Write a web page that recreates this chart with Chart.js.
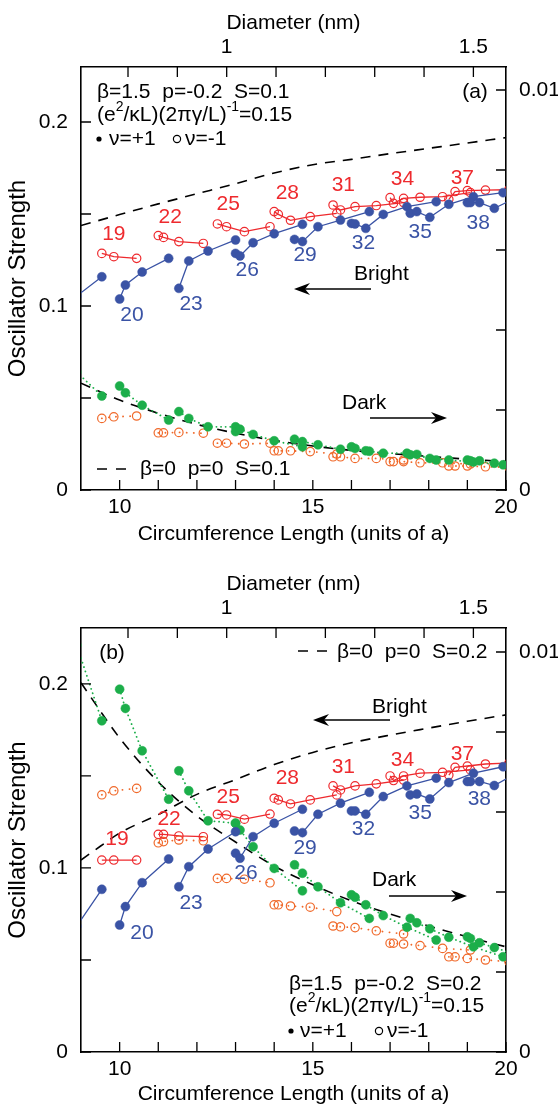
<!DOCTYPE html>
<html>
<head>
<meta charset="utf-8">
<script src="https://cdn.jsdelivr.net/npm/chart.js@4.4.0/dist/chart.umd.min.js"></script>
<style>
  body { margin: 0; background: #fff; width: 558px; height: 1107px; overflow: hidden; position: relative; }
  canvas { position: absolute; left: 0; }
  #chartA { top: 0; }
  #chartB { top: 555px; }
</style>
</head>
<body>
<canvas id="chartA" width="558" height="555"></canvas>
<canvas id="chartB" width="558" height="552"></canvas>
<script>
// graphene lattice constant (nm), used for the top Diameter axis
const latticeA = 0.246;

// axis ticks
const xTicks = [10, 11, 12, 13, 14, 15, 16, 17, 18, 19, 20];
const xTickLabels = ['10', '', '', '', '', '15', '', '', '', '', '20'];
const diamTicks = [0.8, 0.9, 1.0, 1.1, 1.2, 1.3, 1.4, 1.5];
const diamTickLabels = ['', '', '1', '', '', '', '', '1.5'];
const yTicks = [0, 0.05, 0.1, 0.15, 0.2];
const yTickLabels = ['0', '', '0.1', '', '0.2'];
const y2Ticks = [0, 0.002, 0.004, 0.006, 0.008, 0.01];
const y2TickLabels = ['0', '', '', '', '', '0.01'];

// circumference lengths of the tubes in each family (2n+m)
const f17 = [8.888, 9.539];
const f19 = [9.539, 9.849, 10.440];
const f20 = [10.000, 10.149, 10.583, 11.269];
const f22 = [11.000, 11.136, 11.533, 12.166];
const f23 = [11.533, 11.790, 12.288, 13.000];
const f25 = [12.530, 12.767, 13.229, 13.892];
const f26 = [13.000, 13.115, 13.454, 14.000, 14.731];
const f28 = [14.000, 14.107, 14.422, 14.933, 15.620];
const f29 = [14.526, 14.731, 15.133, 15.716, 16.462];
const f31 = [15.524, 15.716, 16.093, 16.643, 17.349];
const f32 = [16.000, 16.093, 16.371, 16.823, 17.436, 18.193];
const f34 = [17.000, 17.088, 17.349, 17.776, 18.358, 19.079];
const f35 = [17.521, 17.692, 18.028, 18.520, 19.157, 19.925];
const f37 = [18.520, 18.682, 19.000, 19.468, 20.075];
const f38 = [19.000, 19.079, 19.313, 19.698, 20.224];
const plusFamilies = [f17, f20, f23, f26, f29, f32, f35, f38];   // nu = +1
const minusFamilies = [f19, f22, f25, f28, f31, f34, f37];       // nu = -1
const plusNames = ['20', '23', '26', '29', '32', '35', '38'];
const minusNames = ['19', '22', '25', '28', '31', '34', '37'];

// ---- panel (a): S = 0.1 ----
const aBrightPlus = [
  [0.1054, 0.1159],
  [0.1038, 0.1114, 0.1185, 0.1259],
  [0.1096, 0.1245, 0.1299, 0.1359],
  [0.1286, 0.1272, 0.1344, 0.1393, 0.1444],
  [0.1362, 0.1350, 0.1431, 0.1467, 0.1513],
  [0.1449, 0.1446, 0.1422, 0.1498, 0.1540, 0.1567],
  [0.1504, 0.1513, 0.1482, 0.1553, 0.1594, 0.1616],
  [0.1562, 0.1562, 0.1562, 0.1531, 0.1585]
];
const aBrightMinus = [
  [0.1286, 0.1268, 0.1259],
  [0.1383, 0.1373, 0.1350, 0.1340],
  [0.1446, 0.1431, 0.1404, 0.1431],
  [0.1513, 0.1498, 0.1466, 0.1486, 0.1503],
  [0.1549, 0.1522, 0.1540, 0.1546, 0.1562],
  [0.1589, 0.1558, 0.1585, 0.1591, 0.1594, 0.1616],
  [0.1580, 0.1622, 0.1627, 0.1630, 0.1632]
];
const aDarkPlus = [
  [0.00295, 0.00235],
  [0.00260, 0.00243, 0.00212, 0.00175],
  [0.00196, 0.00179, 0.00158, 0.00158],
  [0.00146, 0.00152, 0.00139, 0.00123, 0.00108],
  [0.00127, 0.00121, 0.00113, 0.00102, 0.00097],
  [0.00108, 0.00104, 0.00098, 0.00092, 0.00092, 0.00075],
  [0.00088, 0.00089, 0.00079, 0.00075, 0.00070, 0.00063],
  [0.00075, 0.00073, 0.00073, 0.00067, 0.00062]
];
const aDarkMinus = [
  [0.00179, 0.00183, 0.00185],
  [0.00143, 0.00143, 0.00144, 0.00142],
  [0.00117, 0.00117, 0.00115, 0.00117],
  [0.00098, 0.00098, 0.00098, 0.00096, 0.00090],
  [0.00083, 0.00083, 0.00079, 0.00079, 0.00075],
  [0.00071, 0.00071, 0.00071, 0.00068, 0.00068, 0.00065],
  [0.00060, 0.00060, 0.00060, 0.00058, 0.00057]
];
const aRefL = [9, 10, 11, 12, 13, 14, 15, 16, 17, 18, 19, 20];
const aRefBright = [0.1437, 0.1497, 0.1555, 0.1610, 0.1665, 0.1723, 0.1768, 0.1797, 0.1828, 0.1857, 0.1886, 0.1915];
const aRefDark = [0.00267, 0.00225, 0.00192, 0.00164, 0.00142, 0.00124, 0.00110, 0.00099, 0.00091, 0.00084, 0.00077, 0.00071];
const aMinusLabelPos = [[9.85, 0.1391], [11.31, 0.1484], [12.81, 0.1554], [14.34, 0.1614], [15.79, 0.1658], [17.32, 0.1690], [18.87, 0.1696]];
const aPlusLabelPos = [[10.32, 0.0951], [11.85, 0.1011], [13.30, 0.1196], [14.80, 0.1277], [16.31, 0.1342], [17.78, 0.1402], [19.28, 0.1451]];

// ---- panel (b): S = 0.2 ----
const bBrightPlus = [
  [0.0683, 0.0884],
  [0.0690, 0.0790, 0.0920, 0.1049],
  [0.0898, 0.1007, 0.1103, 0.1197],
  [0.1080, 0.1053, 0.1170, 0.1243, 0.1319],
  [0.1201, 0.1192, 0.1292, 0.1352, 0.1411],
  [0.1310, 0.1310, 0.1292, 0.1388, 0.1446, 0.1488],
  [0.1397, 0.1402, 0.1375, 0.1464, 0.1515, 0.1550],
  [0.1470, 0.1470, 0.1470, 0.1448, 0.1510]
];
const bBrightMinus = [
  [0.1043, 0.1043, 0.1043],
  [0.1183, 0.1183, 0.1174, 0.1170],
  [0.1292, 0.1288, 0.1265, 0.1293],
  [0.1379, 0.1370, 0.1348, 0.1370, 0.1397],
  [0.1446, 0.1424, 0.1446, 0.1457, 0.1478],
  [0.1500, 0.1475, 0.1500, 0.1515, 0.1520, 0.1533],
  [0.1505, 0.1547, 0.1554, 0.1565, 0.1570]
];
const bDarkPlus = [
  [0.01017, 0.00828],
  [0.00907, 0.00859, 0.00753, 0.00632],
  [0.00703, 0.00653, 0.00578, 0.00572],
  [0.00572, 0.00555, 0.00513, 0.00459, 0.00403],
  [0.00468, 0.00447, 0.00413, 0.00373, 0.00334],
  [0.00393, 0.00387, 0.00368, 0.00341, 0.00312, 0.00280],
  [0.00334, 0.00323, 0.00308, 0.00287, 0.00263, 0.00238],
  [0.00288, 0.00284, 0.00273, 0.00261, 0.00245]
];
const bDarkMinus = [
  [0.00643, 0.00653, 0.00659],
  [0.00523, 0.00526, 0.00530, 0.00528],
  [0.00434, 0.00434, 0.00432, 0.00423],
  [0.00368, 0.00368, 0.00365, 0.00362, 0.00351],
  [0.00315, 0.00313, 0.00311, 0.00303, 0.00295],
  [0.00272, 0.00272, 0.00270, 0.00266, 0.00259, 0.00255],
  [0.00238, 0.00238, 0.00234, 0.00230, 0.00226]
];
const bRefBrightL = [9, 9.5, 10, 11, 12, 13, 14, 15, 16, 17, 18, 19, 20];
const bRefBright = [0.1043, 0.1118, 0.1190, 0.1290, 0.1400, 0.1480, 0.1562, 0.1628, 0.1680, 0.1722, 0.1760, 0.1797, 0.1832];
const bRefDarkL = [9, 10, 11, 12, 13, 14, 15, 16, 17, 18, 19, 20];
const bRefDark = [0.00923, 0.00785, 0.00675, 0.00590, 0.00525, 0.00465, 0.00418, 0.00378, 0.00345, 0.00315, 0.00288, 0.00263];
const bMinusLabelPos = [[9.93, 0.1158], [11.28, 0.1266], [12.81, 0.1386], [14.34, 0.1489], [15.79, 0.1549], [17.32, 0.1587], [18.87, 0.1620]];
const bPlusLabelPos = [[10.58, 0.0647], [11.85, 0.0810], [13.27, 0.0973], [14.80, 0.1109], [16.31, 0.1212], [17.78, 0.1299], [19.31, 0.1375]];

const BLUE = '#3a53a5';
const RED = '#ee2a2e';
const GREEN = '#1cae4a';
const ORANGE = '#f0692a';
const FONT_FAMILY = '"Liberation Sans", Arial, Helvetica, sans-serif';
const TXT_FONT = '21px ' + FONT_FAMILY;
const SUP_FONT = '14px ' + FONT_FAMILY;

Chart.defaults.font.family = FONT_FAMILY;
Chart.defaults.font.size = 21;
Chart.defaults.color = '#000';

// join the families into one series, with a gap between families
function joinFamilies(fams, vals) {
  const out = [];
  fams.forEach((xs, i) => {
    xs.forEach((x, j) => out.push({ x: x, y: vals[i][j] }));
    out.push({ x: xs[xs.length - 1], y: null });
  });
  return out;
}

function pairs(xs, ys) {
  return xs.map((x, i) => ({ x: x, y: ys[i] }));
}

function richText(ctx, x, y, parts) {
  let cx = x;
  parts.forEach(([t, sup]) => {
    ctx.font = sup ? SUP_FONT : TXT_FONT;
    ctx.fillText(t, cx, sup ? y - 8 : y);
    cx += ctx.measureText(t).width;
  });
}

function arrow(ctx, x1, y, x2) {
  const d = Math.sign(x2 - x1);
  ctx.lineWidth = 1.4;
  ctx.beginPath();
  ctx.moveTo(x1, y);
  ctx.lineTo(x2 - d * 8, y);
  ctx.stroke();
  ctx.beginPath();
  ctx.moveTo(x2, y);
  ctx.lineTo(x2 - d * 16, y - 6);
  ctx.lineTo(x2 - d * 11, y);
  ctx.lineTo(x2 - d * 16, y + 6);
  ctx.closePath();
  ctx.fill();
}

function nuLegend(ctx, x, y, gap1, gap2, gap3) {
  ctx.beginPath();
  ctx.arc(x, y, 2.6, 0, 2 * Math.PI);
  ctx.fill();
  ctx.font = TXT_FONT;
  ctx.fillText('ν=+1', x + gap1, y);
  ctx.beginPath();
  ctx.lineWidth = 1.2;
  ctx.arc(x + gap2, y, 3.6, 0, 2 * Math.PI);
  ctx.stroke();
  ctx.fillText('ν=-1', x + gap3, y);
}

function dashSample(ctx, x1, x2, y) {
  ctx.save();
  ctx.setLineDash([10, 9]);
  ctx.lineWidth = 1.6;
  ctx.beginPath();
  ctx.moveTo(x1, y);
  ctx.lineTo(x2, y);
  ctx.stroke();
  ctx.restore();
}

function annotPlugin(p) {
  return {
    id: 'annot',
    afterDatasetsDraw(chart) {
      const { ctx, chartArea: a, scales } = chart;
      ctx.save();
      // tick marks pointing into the plot
      const len = 10;
      ctx.strokeStyle = '#000';
      ctx.lineWidth = 1.3;
      ctx.beginPath();
      scales.x.ticks.forEach(t => { const px = scales.x.getPixelForValue(t.value); ctx.moveTo(px, a.bottom); ctx.lineTo(px, a.bottom - len); });
      scales.x2.ticks.forEach(t => { const px = scales.x2.getPixelForValue(t.value); ctx.moveTo(px, a.top); ctx.lineTo(px, a.top + len); });
      scales.y.ticks.forEach(t => { const py = scales.y.getPixelForValue(t.value); ctx.moveTo(a.left, py); ctx.lineTo(a.left + len, py); });
      scales.y2.ticks.forEach(t => { const py = scales.y2.getPixelForValue(t.value); ctx.moveTo(a.right, py); ctx.lineTo(a.right - len, py); });
      ctx.stroke();

      // family numbers
      ctx.font = TXT_FONT;
      ctx.textAlign = 'center';
      ctx.textBaseline = 'middle';
      ctx.fillStyle = RED;
      minusNames.forEach((n, i) => ctx.fillText(n, scales.x.getPixelForValue(p.minusPos[i][0]), scales.y.getPixelForValue(p.minusPos[i][1])));
      ctx.fillStyle = BLUE;
      plusNames.forEach((n, i) => ctx.fillText(n, scales.x.getPixelForValue(p.plusPos[i][0]), scales.y.getPixelForValue(p.plusPos[i][1])));

      ctx.fillStyle = '#000';
      ctx.strokeStyle = '#000';
      ctx.textAlign = 'left';
      p.draw(ctx, a);
      ctx.restore();
    }
  };
}

function buildChart(id, p) {
  const pointSet = (label, data, axis, color, open, dash) => ({
    label: label,
    data: data,
    yAxisID: axis,
    showLine: true,
    borderColor: color,
    borderWidth: dash ? 1.8 : 1.3,
    borderDash: dash || [],
    borderCapStyle: dash ? 'round' : 'butt',
    pointRadius: open ? 4.2 : 4.5,
    pointBorderWidth: open ? 1.2 : 0.5,
    pointBorderColor: color,
    pointBackgroundColor: open ? 'rgba(255,255,255,0)' : color,
    tension: 0
  });
  const refLine = (label, data, axis) => ({
    label: label,
    data: data,
    yAxisID: axis,
    showLine: true,
    borderColor: '#000',
    borderWidth: 1.6,
    borderDash: [10, 8],
    pointRadius: 0,
    cubicInterpolationMode: 'monotone'
  });
  const frame = { display: true, color: '#000', width: 1.6 };
  return new Chart(document.getElementById(id), {
    type: 'scatter',
    data: {
      datasets: [
        pointSet('bright nu=+1', joinFamilies(plusFamilies, p.brightPlus), 'y', BLUE, false),
        pointSet('bright nu=-1', joinFamilies(minusFamilies, p.brightMinus), 'y', RED, true),
        pointSet('dark nu=+1', joinFamilies(plusFamilies, p.darkPlus), 'y2', GREEN, false, [0.1, 4.5]),
        pointSet('dark nu=-1', joinFamilies(minusFamilies, p.darkMinus), 'y2', ORANGE, true, [0.1, 7]),
        refLine('beta=0 bright', p.refBright, 'y'),
        refLine('beta=0 dark', p.refDark, 'y2')
      ]
    },
    options: {
      responsive: false,
      animation: false,
      events: [],
      layout: { padding: 0 },
      plugins: { legend: { display: false }, tooltip: { enabled: false } },
      scales: {
        x: {
          type: 'linear', position: 'bottom', min: 9, max: 20,
          afterBuildTicks: s => { s.ticks = xTicks.map(v => ({ value: v })); },
          afterFit: s => { s.height = p.bottomH; },
          ticks: { autoSkip: false, maxRotation: 0, padding: 5, callback: (v, i) => xTickLabels[i] },
          grid: { display: false, drawTicks: false },
          border: frame,
          title: { display: true, text: 'Circumference Length (units of a)', padding: { top: 0, bottom: p.xTitlePad } }
        },
        x2: {
          type: 'linear', position: 'top', min: 9, max: 20,
          afterBuildTicks: s => { s.ticks = diamTicks.map(d => ({ value: d * Math.PI / latticeA })); },
          afterFit: s => { s.height = p.topH; },
          ticks: { autoSkip: false, maxRotation: 0, padding: 7, callback: (v, i) => diamTickLabels[i] },
          grid: { display: false, drawTicks: false },
          border: frame,
          title: { display: true, text: 'Diameter (nm)', padding: { top: p.topTitlePad, bottom: 0 } }
        },
        y: {
          type: 'linear', position: 'left', min: 0, max: p.yMax,
          afterBuildTicks: s => { s.ticks = yTicks.map(v => ({ value: v })); },
          afterFit: s => { s.width = 81; },
          ticks: { autoSkip: false, padding: 13, callback: (v, i) => yTickLabels[i] },
          grid: { display: false, drawTicks: false },
          border: frame,
          title: { display: true, text: 'Oscillator Strength', font: { size: 24 }, padding: { top: 4, bottom: 0 } }
        },
        y2: {
          type: 'linear', position: 'right', min: 0, max: p.y2Max,
          afterBuildTicks: s => { s.ticks = y2Ticks.map(v => ({ value: v })); },
          afterFit: s => { s.width = 52; },
          ticks: { autoSkip: false, padding: 13, callback: (v, i) => y2TickLabels[i] },
          grid: { display: false, drawTicks: false },
          border: frame
        }
      }
    },
    plugins: [annotPlugin(p)]
  });
}

buildChart('chartA', {
  brightPlus: aBrightPlus, brightMinus: aBrightMinus, darkPlus: aDarkPlus, darkMinus: aDarkMinus,
  refBright: pairs(aRefL, aRefBright), refDark: pairs(aRefL, aRefDark),
  minusPos: aMinusLabelPos, plusPos: aPlusLabelPos,
  yMax: 0.2299, y2Max: 0.010575, topH: 67, bottomH: 65, xTitlePad: 8, topTitlePad: 11,
  draw(ctx, a) {
    const L = a.left, T = a.top;
    ctx.font = TXT_FONT;
    ctx.fillText('β=1.5  p=-0.2  S=0.1', L + 16, T + 25);
    richText(ctx, L + 16, T + 48, [['(e'], ['2', true], ['/κL)(2πγ/L)'], ['-1', true], ['=0.15']]);
    nuLegend(ctx, L + 18, T + 72, 10, 78, 86);
    ctx.font = TXT_FONT;
    ctx.textAlign = 'center';
    ctx.fillText('(a)', L + 394, T + 25);
    ctx.textAlign = 'left';
    dashSample(ctx, L + 16, L + 47, T + 402);
    ctx.fillText('β=0  p=0  S=0.1', L + 59, T + 402);
    ctx.fillText('Bright', L + 273, T + 207);
    arrow(ctx, L + 290, T + 222, L + 213);
    ctx.fillText('Dark', L + 261, T + 336);
    arrow(ctx, L + 289, T + 351, L + 366);
  }
});

buildChart('chartB', {
  brightPlus: bBrightPlus, brightMinus: bBrightMinus, darkPlus: bDarkPlus, darkMinus: bDarkMinus,
  refBright: pairs(bRefBrightL, bRefBright), refDark: pairs(bRefDarkL, bRefDark),
  minusPos: bMinusLabelPos, plusPos: bPlusLabelPos,
  yMax: 0.2304, y2Max: 0.0106, topH: 73, bottomH: 55, xTitlePad: 0, topTitlePad: 17,
  draw(ctx, a) {
    const L = a.left, T = a.top;
    ctx.font = TXT_FONT;
    ctx.textAlign = 'center';
    ctx.fillText('(b)', L + 31, T + 25);
    ctx.textAlign = 'left';
    dashSample(ctx, L + 217, L + 247, T + 23);
    ctx.fillText('β=0  p=0  S=0.2', L + 256, T + 24);
    ctx.fillText('Bright', L + 291, T + 79);
    arrow(ctx, L + 309, T + 92, L + 232);
    ctx.fillText('Dark', L + 291, T + 252);
    arrow(ctx, L + 308, T + 268, L + 386);
    ctx.fillText('β=1.5  p=-0.2  S=0.2', L + 208, T + 356);
    richText(ctx, L + 208, T + 378, [['(e'], ['2', true], ['/κL)(2πγ/L)'], ['-1', true], ['=0.15']]);
    nuLegend(ctx, L + 210, T + 403, 9, 88, 96);
  }
});
</script>
</body>
</html>
